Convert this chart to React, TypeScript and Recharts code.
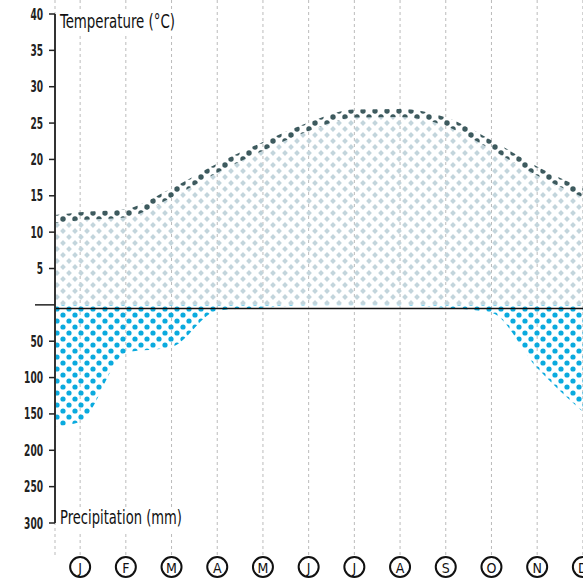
import { Area, CartesianGrid, ComposedChart, Label, ReferenceLine, XAxis, YAxis } from "recharts"

const months = ["J", "F", "M", "A", "M", "J", "J", "A", "S", "O", "N", "D"]
const temperature = [12.2, 12.6, 15.4, 18.8, 21.8, 24.5, 26.3, 26.4, 25.2, 22.0, 18.4, 15.4]
const precipitation = [161, 66, 58, 8, 4, 1, 0.5, 1, 4, 11, 87, 147]
// values at the left edge of the plot, before January
const edgeTemperature = 11.8
const edgePrecipitation = 167
const temperatureTicks = [0, 5, 10, 15, 20, 25, 30, 35, 40]
const precipitationTicks = [50, 100, 150, 200, 250, 300]

const data = [
  { m: 0.45, t: edgeTemperature, p: edgePrecipitation },
  ...months.map((_, i) => ({ m: i + 1, t: temperature[i], p: precipitation[i] })),
]

const font = '"Liberation Sans Narrow", "DejaVu Sans Condensed", "Roboto Condensed", sans-serif'

function YTick({ x, y, payload, shift = 0 }: any) {
  const zero = payload.value === 0
  const label = String(payload.value)
  const tx = x + shift
  return (
    <g>
      <line x1={zero ? tx - 8 : tx + 6} x2={tx + 12} y1={y} y2={y} stroke="#222" strokeWidth={1.5} />
      {!zero && (
        <text
          x={tx}
          y={y + 5.5}
          textAnchor="end"
          fontSize={15}
          fontWeight={600}
          fill="#222"
          fontFamily={font}
          textLength={label.length * 6.3}
          lengthAdjust="spacingAndGlyphs"
        >
          {label}
        </text>
      )}
    </g>
  )
}

function MonthTick({ x, y, payload }: any) {
  return (
    <g>
      <circle cx={x} cy={y + 44} r={10} fill="#fff" stroke="#111" strokeWidth={2} />
      <text x={x} y={y + 49.5} textAnchor="middle" fontSize={14} fill="#111" fontFamily={font}>
        {months[payload.value - 1]}
      </text>
    </g>
  )
}

export default function App() {
  return (
    <div style={{ position: "absolute", left: 0, top: 0, width: 583, height: 582, overflow: "hidden", background: "#fff" }}>
      <ComposedChart width={608} height={582} data={data} margin={{ top: 14, right: 0, bottom: 0, left: 0 }}>
        <defs>
          <pattern id="tempFill" width="12" height="12" patternUnits="userSpaceOnUse">
            <polygon points="3,0.1 5.9,3 3,5.9 0.1,3" fill="#c3d5dc" />
            <polygon points="9,6.1 11.9,9 9,11.9 6.1,9" fill="#c3d5dc" />
          </pattern>
          <pattern id="tempLine" width="12" height="12" patternUnits="userSpaceOnUse">
            <circle cx="3" cy="3" r="2.7" fill="#3d5a5e" />
            <circle cx="9" cy="9" r="2.7" fill="#3d5a5e" />
          </pattern>
          <pattern id="rainFill" width="12" height="12" patternUnits="userSpaceOnUse">
            <circle cx="3" cy="3" r="2.6" fill="#0aaade" />
            <circle cx="9" cy="9" r="2.6" fill="#0aaade" />
          </pattern>
        </defs>
        <CartesianGrid yAxisId="air" horizontal={false} y={0} height={555} stroke="#bbb" strokeDasharray="3 3" />
        <XAxis
          type="number"
          dataKey="m"
          domain={[0.45, 12.55]}
          ticks={[1, 2, 3, 4, 5, 6, 7, 8, 9, 10, 11, 12]}
          interval={0}
          height={59}
          axisLine={false}
          tickLine={false}
          tickSize={0}
          tickMargin={0}
          tick={<MonthTick />}
        />
        <YAxis
          yAxisId="air"
          width={1}
          domain={[-30, 40]}
          ticks={temperatureTicks}
          interval={0}
          axisLine={{ stroke: "#333", strokeWidth: 2 }}
          tickLine={false}
          tickSize={0}
          tickMargin={12}
          tick={<YTick />}
        >
          <Label
            content={({ viewBox }: any) => (
              <g>
                <rect x={viewBox.x + viewBox.width + 3} y={viewBox.y - 2} width={120} height={22} fill="#fff" />
                <text x={viewBox.x + viewBox.width + 5} y={viewBox.y + 14} fontSize={19} fill="#111" fontFamily={font} textLength={115} lengthAdjust="spacingAndGlyphs">
                  Temperature (°C)
                </text>
              </g>
            )}
          />
        </YAxis>
        <YAxis
          yAxisId="rain"
          width={54}
          reversed
          domain={[-400, 300]}
          ticks={precipitationTicks}
          interval={0}
          axisLine={false}
          tickLine={false}
          tickSize={0}
          tickMargin={12}
          tick={<YTick shift={1} />}
        >
          <Label
            content={({ viewBox }: any) => (
              <g>
                <rect x={viewBox.x + viewBox.width + 4} y={viewBox.y + viewBox.height - 16} width={128} height={24} fill="#fff" />
                <text x={viewBox.x + viewBox.width + 6} y={viewBox.y + viewBox.height + 1} fontSize={19} fill="#111" fontFamily={font} textLength={122} lengthAdjust="spacingAndGlyphs">
                  Precipitation (mm)
                </text>
              </g>
            )}
          />
        </YAxis>
        <Area
          yAxisId="rain"
          dataKey="p"
          type="monotone"
          baseValue={0}
          fill="url(#rainFill)"
          fillOpacity={1}
          stroke="none"
          isAnimationActive={false}
        />
        <Area
          yAxisId="air"
          dataKey="t"
          type="monotone"
          baseValue={0}
          fill="url(#tempFill)"
          fillOpacity={1}
          stroke="url(#tempLine)"
          strokeWidth={8}
          isAnimationActive={false}
        />
        <ReferenceLine yAxisId="rain" y={5} stroke="#111" strokeWidth={1.5} />
      </ComposedChart>
    </div>
  )
}
